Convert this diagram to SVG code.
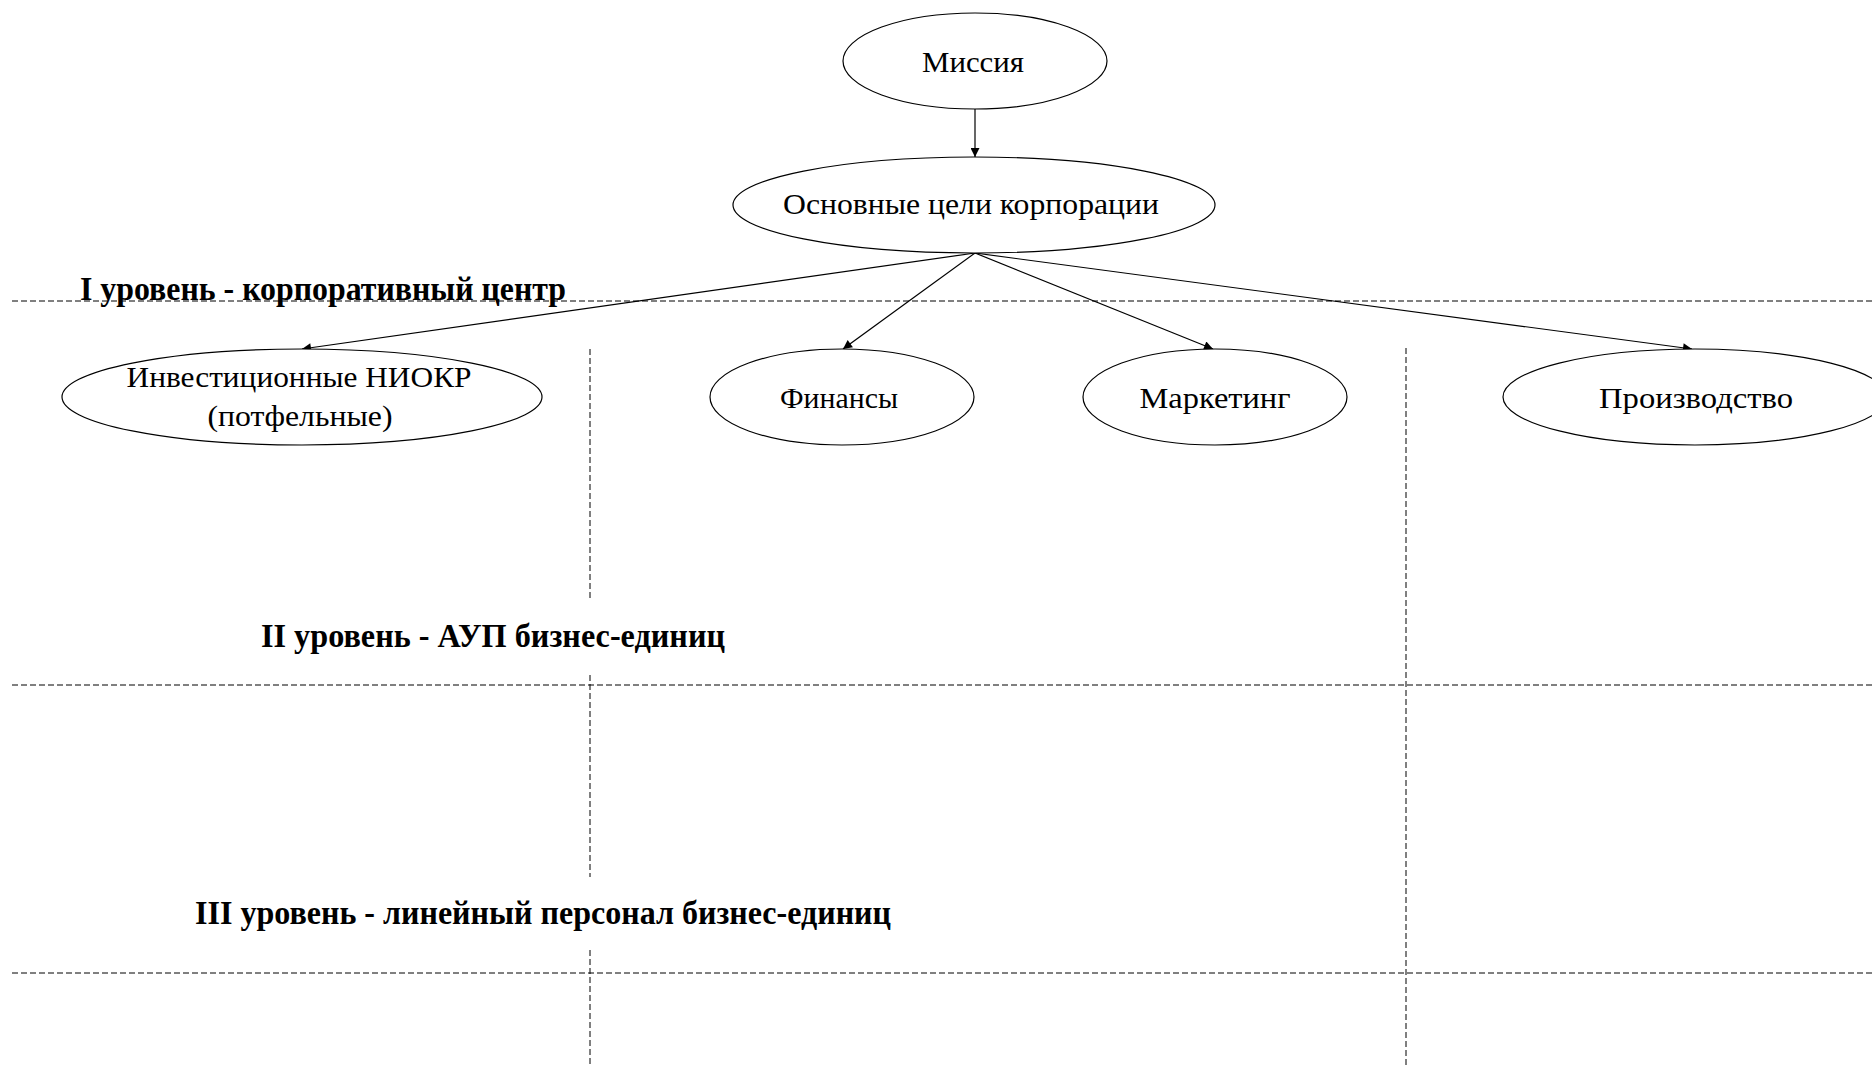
<svg xmlns="http://www.w3.org/2000/svg" width="1872" height="1067" viewBox="0 0 1872 1067">
<style>
.node ellipse{fill:#fff;stroke:#000;stroke-width:1.2}
.t{font-family:"Liberation Serif","Times New Roman",serif;font-size:30px;fill:#000;text-anchor:middle}
.lbl{font-family:"Liberation Serif","Times New Roman",serif;font-size:33px;font-weight:bold;fill:#000}
.dash{stroke:#000;stroke-width:1;stroke-dasharray:6 3;fill:none}
.conn line{stroke:#000;stroke-width:1.2}
</style>
<defs>
<marker id="ah" viewBox="0 0 10 10" refX="10" refY="5" markerWidth="10" markerHeight="9" markerUnits="userSpaceOnUse" orient="auto">
<path d="M0,0 L10,5 L0,10 Z" fill="#000"/>
</marker>
</defs>
<rect width="1872" height="1067" fill="#fff"/>
<g id="grid">
<line class="dash" x1="12" y1="301" x2="1872" y2="301"/>
<line class="dash" x1="12" y1="685" x2="1872" y2="685"/>
<line class="dash" x1="12" y1="973" x2="1872" y2="973"/>
<line class="dash" x1="590" y1="349" x2="590" y2="600"/>
<line class="dash" x1="590" y1="675" x2="590" y2="877"/>
<line class="dash" x1="590" y1="950" x2="590" y2="1067"/>
<line class="dash" x1="1406" y1="348" x2="1406" y2="1067"/>
</g>
<g id="levels">
<text class="lbl" x="80" y="300" textLength="486" lengthAdjust="spacingAndGlyphs">I уровень - корпоративный центр</text>
<text class="lbl" x="261" y="647" textLength="464" lengthAdjust="spacingAndGlyphs">II уровень - АУП бизнес-единиц</text>
<text class="lbl" x="195" y="924" textLength="696" lengthAdjust="spacingAndGlyphs">III уровень - линейный персонал бизнес-единиц</text>
</g>
<g id="connectors" class="conn">
<line x1="975" y1="108" x2="975" y2="157" marker-end="url(#ah)"/>
<line x1="975" y1="253" x2="302" y2="349" marker-end="url(#ah)"/>
<line x1="975" y1="253" x2="843" y2="349" marker-end="url(#ah)"/>
<line x1="975" y1="253" x2="1213" y2="349" marker-end="url(#ah)"/>
<line x1="975" y1="253" x2="1692" y2="349" marker-end="url(#ah)"/>
</g>
<g id="mission" class="node">
<ellipse cx="975" cy="61" rx="132" ry="48"/>
<text class="t" x="973" y="72" textLength="102" lengthAdjust="spacingAndGlyphs">Миссия</text>
</g>
<g id="goals" class="node">
<ellipse cx="974" cy="205" rx="241" ry="48"/>
<text class="t" x="971" y="214" textLength="376" lengthAdjust="spacingAndGlyphs">Основные цели корпорации</text>
</g>
<g id="rnd" class="node">
<ellipse cx="302" cy="397" rx="240" ry="48"/>
<text class="t" x="299" y="387" textLength="345" lengthAdjust="spacingAndGlyphs">Инвестиционные НИОКР</text>
<text class="t" x="300" y="426" textLength="185" lengthAdjust="spacingAndGlyphs">(потфельные)</text>
</g>
<g id="finance" class="node">
<ellipse cx="842" cy="397" rx="132" ry="48"/>
<text class="t" x="839" y="408" textLength="118" lengthAdjust="spacingAndGlyphs">Финансы</text>
</g>
<g id="marketing" class="node">
<ellipse cx="1215" cy="397" rx="132" ry="48"/>
<text class="t" x="1215" y="408" textLength="151" lengthAdjust="spacingAndGlyphs">Маркетинг</text>
</g>
<g id="production" class="node">
<ellipse cx="1695" cy="397" rx="192" ry="48"/>
<text class="t" x="1696" y="408" textLength="194" lengthAdjust="spacingAndGlyphs">Производство</text>
</g>
</svg>
